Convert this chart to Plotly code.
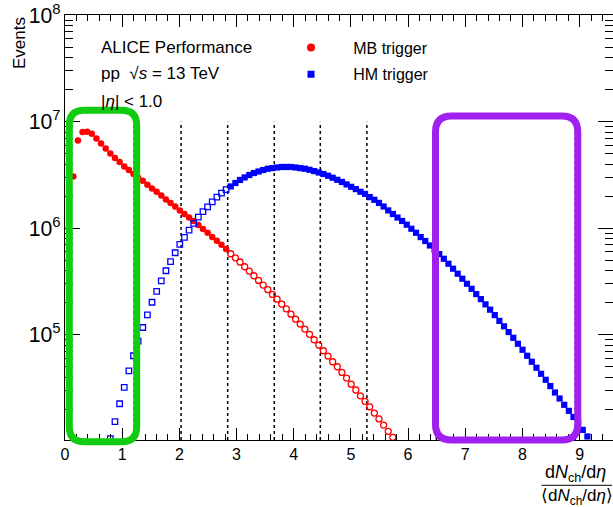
import numpy as np
import plotly.graph_objects as go

# ---------------- data ----------------
bin_width = 0.081
bin_offset = -0.017

mb_first_bin = 2
mb_events = [3.06e6, 6.67e6, 8.0e6, 8.05e6, 7.71e6, 6.97e6, 6.25e6, 5.61e6, 5.04e6, 4.56e6,
             4.19e6, 3.80e6, 3.52e6, 3.23e6, 2.98e6, 2.79e6, 2.56e6, 2.36e6, 2.20e6, 2.03e6,
             1.86e6, 1.73e6, 1.60e6, 1.47e6, 1.36e6, 1.26e6, 1.17e6, 1.07e6, 9.83e5, 9.07e5,
             8.26e5, 7.63e5, 7.00e5, 6.38e5, 5.76e5, 5.28e5, 4.82e5, 4.35e5, 3.96e5, 3.58e5,
             3.24e5, 2.93e5, 2.65e5, 2.39e5, 2.16e5, 1.94e5, 1.75e5, 1.56e5, 1.40e5, 1.26e5,
             1.13e5, 1.01e5, 8.98e4, 8.00e4, 7.08e4, 6.31e4, 5.58e4, 5.01e4, 4.43e4, 3.92e4,
             3.44e4, 3.03e4, 2.67e4, 2.37e4, 2.10e4, 1.84e4, 1.62e4, 1.42e4, 1.24e4, 1.09e4]

hm_first_bin = 10
hm_events = [1.06e4, 1.53e4, 2.25e4, 3.20e4, 4.59e4, 6.35e4, 8.70e4, 1.17e5, 1.54e5, 2.02e5,
             2.55e5, 3.21e5, 3.99e5, 4.85e5, 5.89e5, 7.05e5, 8.20e5, 9.62e5, 1.11e6, 1.27e6,
             1.43e6, 1.59e6, 1.77e6, 1.96e6, 2.14e6, 2.30e6, 2.47e6, 2.66e6, 2.84e6, 3.00e6,
             3.16e6, 3.30e6, 3.41e6, 3.52e6, 3.62e6, 3.67e6, 3.72e6, 3.76e6, 3.76e6, 3.76e6,
             3.72e6, 3.67e6, 3.62e6, 3.54e6, 3.44e6, 3.34e6, 3.23e6, 3.11e6, 2.98e6, 2.85e6,
             2.72e6, 2.58e6, 2.45e6, 2.33e6, 2.20e6, 2.10e6, 1.96e6, 1.85e6, 1.73e6, 1.60e6,
             1.47e6, 1.36e6, 1.26e6, 1.17e6, 1.08e6, 9.89e5, 9.07e5, 8.26e5, 7.59e5, 6.89e5,
             6.28e5, 5.72e5, 5.17e5, 4.64e5, 4.17e5, 3.74e5, 3.36e5, 3.01e5, 2.70e5, 2.41e5,
             2.16e5, 1.93e5, 1.72e5, 1.53e5, 1.35e5, 1.20e5, 1.06e5, 9.37e4, 8.23e4, 7.23e4,
             6.35e4, 5.58e4, 4.90e4, 4.30e4, 3.78e4, 3.30e4, 2.87e4, 2.52e4, 2.20e4, 1.93e4,
             1.69e4, 1.47e4, 1.28e4, 1.11e4]

class_edges = [1.21, 2.03, 2.845, 3.66, 4.465, 5.28, 6.495, 8.925]
trigger_edge = 2.845   # MB filled below, HM filled above

x_ticks = [0, 1, 2, 3, 4, 5, 6, 7, 8, 9]
legend_labels = ["MB trigger", "HM trigger"]

# ---------------- geometry ----------------
W, H = 613, 507
L, R, T, B = 65, 0, 15, 67
PW, PH = W - L - R, H - T - B
x_range = [0, 9.584]
y_range = [4.012, 8.002]


def px(x):
    return (x - L) / PW


def py(y):
    return 1 - (y - T) / PH


mb_x = np.arange(mb_first_bin, mb_first_bin + len(mb_events)) * bin_width + bin_offset
hm_x = np.arange(hm_first_bin, hm_first_bin + len(hm_events)) * bin_width + bin_offset
mb_y = np.array(mb_events)
hm_y = np.array(hm_events)

RED = "#ff0000"
BLUE = "#0000ff"
FONT = "Liberation Sans, Arial, Helvetica, sans-serif"

fig = go.Figure()

m = mb_x < trigger_edge
fig.add_trace(go.Scatter(x=mb_x[m], y=mb_y[m], mode="markers", showlegend=False,
                         marker=dict(symbol="circle", size=6.5, color=RED, line=dict(width=0))))
fig.add_trace(go.Scatter(x=mb_x[~m], y=mb_y[~m], mode="markers", showlegend=False,
                         marker=dict(symbol="circle-open", size=6, color=RED, line=dict(width=1.3))))
h = hm_x >= trigger_edge
fig.add_trace(go.Scatter(x=hm_x[~h], y=hm_y[~h], mode="markers", showlegend=False,
                         marker=dict(symbol="square-open", size=5.5, color=BLUE, line=dict(width=1.3))))
fig.add_trace(go.Scatter(x=hm_x[h], y=hm_y[h], mode="markers", showlegend=False,
                         marker=dict(symbol="square", size=6.2, color=BLUE, line=dict(width=0))))

# legend-only entries
nb = "\u00a0" * 5
fig.add_trace(go.Scatter(x=[None], y=[None], mode="markers", name=nb + legend_labels[0],
                         legendgroup="mb",
                         marker=dict(symbol="circle", size=8, color=RED)))
fig.add_trace(go.Scatter(x=[None], y=[None], mode="markers", name=nb + legend_labels[1],
                         legendgroup="hm",
                         marker=dict(symbol="square", size=7, color=BLUE)))

shapes = []
y_top_lines = (7 - y_range[0]) / (y_range[1] - y_range[0])
for xe in class_edges:
    shapes.append(dict(type="line", xref="x", yref="paper", x0=xe, x1=xe, y0=0, y1=y_top_lines,
                       line=dict(color="black", width=1.5, dash="dot"), layer="below"))


def rounded_box(x0, y0, x1, y1, r, color):
    pts = lambda a, b: f"{px(a):.5f},{py(b):.5f}"
    path = (f"M {pts(x0 + r, y0)} L {pts(x1 - r, y0)} Q {pts(x1, y0)} {pts(x1, y0 + r)} "
            f"L {pts(x1, y1 - r)} Q {pts(x1, y1)} {pts(x1 - r, y1)} "
            f"L {pts(x0 + r, y1)} Q {pts(x0, y1)} {pts(x0, y1 - r)} "
            f"L {pts(x0, y0 + r)} Q {pts(x0, y0)} {pts(x0 + r, y0)} Z")
    return dict(type="path", xref="paper", yref="paper", path=path,
                line=dict(color=color, width=7), layer="above")


shapes.append(rounded_box(69.3, 110.3, 136.7, 441.7, 15, "#11cc11"))
shapes.append(rounded_box(435.5, 116, 577.8, 440, 16, "#a020f0"))

# fraction bar of x title
shapes.append(dict(type="line", xref="paper", yref="paper", x0=px(541.5), x1=px(612),
                   y0=py(485.3), y1=py(485.3), line=dict(color="black", width=1)))

annotations = [
    dict(text="Events", x=px(19), y=1.0, xref="paper", yref="paper", textangle=-90,
         xanchor="center", yanchor="top", showarrow=False, font=dict(size=17)),
    dict(text="ALICE Performance", x=px(99), y=py(47.5), xref="paper", yref="paper",
         xanchor="left", yanchor="middle", showarrow=False, font=dict(size=17)),
    dict(text="pp  \u221a<i>s</i> = 13 TeV", x=px(99), y=py(74), xref="paper", yref="paper",
         xanchor="left", yanchor="middle", showarrow=False, font=dict(size=17)),
    dict(text="|<i>\u03b7</i>| &lt; 1.0", x=px(99), y=py(101), xref="paper", yref="paper",
         xanchor="left", yanchor="middle", showarrow=False, font=dict(size=17)),
    dict(text="d<i>N</i><sub>ch</sub>/d<i>\u03b7</i>", x=px(575), y=py(473), xref="paper",
         yref="paper", xanchor="center", yanchor="middle", showarrow=False, font=dict(size=18)),
    dict(text="\u27e8d<i>N</i><sub>ch</sub>/d<i>\u03b7</i>\u27e9", x=px(577), y=py(497),
         xref="paper", yref="paper", xanchor="center", yanchor="middle", showarrow=False,
         font=dict(size=17)),
]

fig.update_layout(
    width=W, height=H, autosize=False,
    margin=dict(l=L, r=R, t=T, b=B, pad=0),
    paper_bgcolor="white", plot_bgcolor="white",
    font=dict(family=FONT, color="black", size=16),
    shapes=shapes, annotations=annotations,
    showlegend=True,
    legend=dict(x=px(291), y=py(30.5), xanchor="left", yanchor="top",
                bgcolor="rgba(0,0,0,0)", font=dict(size=16), tracegroupgap=3,
                itemsizing="trace"),
    xaxis=dict(range=x_range, showline=True, linecolor="black", linewidth=1, mirror="allticks",
               ticks="inside", ticklen=12, tickwidth=1, tickcolor="black",
               tickmode="array", tickvals=x_ticks, ticktext=[str(v) for v in x_ticks],
               minor=dict(ticks="inside", ticklen=6, dtick=0.2, tick0=0, tickcolor="black",
                          showgrid=False),
               showgrid=False, zeroline=False, tickfont=dict(size=16)),
    yaxis=dict(type="log", range=y_range, showline=True, linecolor="black", linewidth=1,
               mirror="allticks", ticks="inside", ticklen=15, tickwidth=1, tickcolor="black",
               dtick=1, exponentformat="power", showexponent="all",
               minor=dict(ticks="inside", ticklen=8, dtick="D1", tickcolor="black",
                          showgrid=False),
               showgrid=False, zeroline=False, tickfont=dict(size=17)),
)

fig.write_html("out.html")
